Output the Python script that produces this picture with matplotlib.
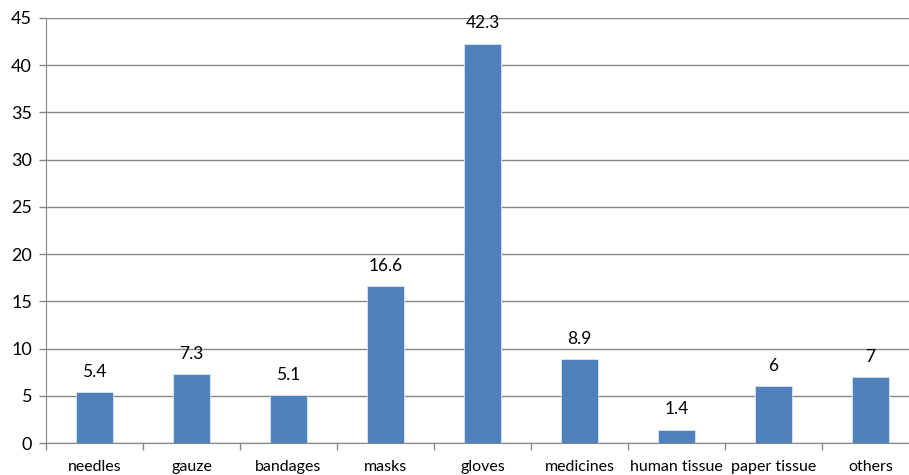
import matplotlib.pyplot as plt
import numpy as np

plt.rcParams['font.family'] = ['Lato', 'DejaVu Sans']

categories = ['needles', 'gauze', 'bandages', 'masks', 'gloves', 'medicines',
              'human tissue', 'paper tissue', 'others']
values = [5.4, 7.3, 5.1, 16.6, 42.3, 8.9, 1.4, 6, 7]
value_labels = ['5.4', '7.3', '5.1', '16.6', '42.3', '8.9', '1.4', '6', '7']

bar_color = '#4F81BD'
grid_color = '#868686'

fig = plt.figure(figsize=(9.09, 4.75), dpi=100)
# plot area runs a little past the right edge of the image, as in the original
ax = fig.add_axes([46 / 909, 32 / 475, 873 / 909, 425 / 475])

x = np.arange(len(categories))
ax.bar(x, values, width=0.39, color=bar_color, edgecolor='#DCE6F2', linewidth=0.6, zorder=3)

for xi, v, lab in zip(x, values, value_labels):
    ax.text(xi, v + 1.3, lab, ha='center', va='bottom', fontsize=12.5, color='black')

ax.set_xlim(-0.5, len(categories) - 0.5)
ax.set_ylim(0, 45)
ax.set_yticks(np.arange(0, 46, 5))
ax.yaxis.grid(True, color=grid_color, linewidth=1, zorder=0)
ax.set_axisbelow(True)

ax.set_xticks(x)
ax.set_xticklabels(categories, fontsize=11.5)
ax.tick_params(axis='x', length=0, pad=12)
ax.set_xticks(np.arange(-0.5, len(categories), 1), minor=True)
ax.tick_params(axis='x', which='minor', length=5, color=grid_color, width=1)
ax.tick_params(axis='y', length=5, color=grid_color, width=1, labelsize=13, pad=5)

for side in ['top', 'right']:
    ax.spines[side].set_visible(False)
ax.spines['left'].set_color(grid_color)
ax.spines['bottom'].set_color(grid_color)

fig.savefig('out.png', dpi=100)
